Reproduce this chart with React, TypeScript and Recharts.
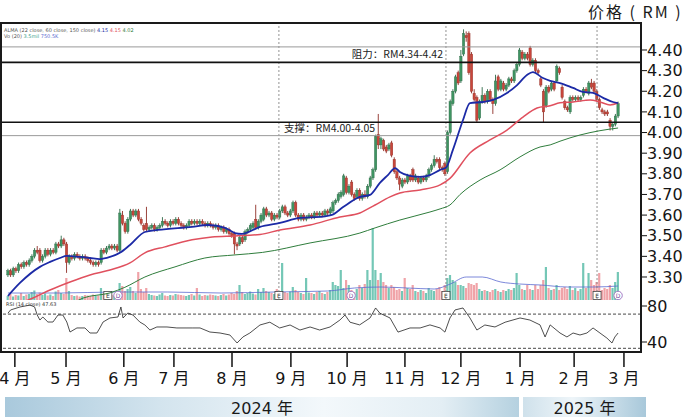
import React from 'react';
import { ComposedChart, Bar, Line, XAxis, YAxis, ReferenceLine, ReferenceDot, Cell } from 'recharts';

// daily candles [open, high, low, close]
const ohlc: [number, number, number, number][] = [
  [3.31,3.34,3.30,3.33],[3.33,3.34,3.30,3.31],[3.31,3.35,3.30,3.34],[3.34,3.35,3.32,3.33],[3.33,3.37,3.32,3.36],
  [3.36,3.37,3.34,3.35],[3.35,3.38,3.34,3.37],[3.37,3.38,3.35,3.36],[3.36,3.39,3.35,3.38],[3.38,3.41,3.37,3.40],
  [3.40,3.44,3.39,3.43],[3.43,3.45,3.41,3.42],[3.43,3.44,3.37,3.38],[3.38,3.41,3.37,3.40],[3.40,3.44,3.39,3.43],
  [3.43,3.44,3.40,3.41],[3.41,3.44,3.40,3.43],[3.43,3.44,3.41,3.42],[3.42,3.47,3.41,3.46],[3.46,3.47,3.44,3.45],
  [3.45,3.50,3.44,3.48],[3.48,3.49,3.45,3.46],[3.46,3.47,3.32,3.37],[3.37,3.41,3.36,3.40],[3.40,3.41,3.38,3.39],
  [3.39,3.42,3.38,3.41],[3.41,3.42,3.39,3.40],[3.40,3.41,3.38,3.39],[3.39,3.41,3.38,3.40],[3.40,3.41,3.38,3.39],
  [3.39,3.40,3.37,3.38],[3.38,3.39,3.36,3.37],[3.37,3.38,3.35,3.36],[3.36,3.38,3.35,3.37],[3.37,3.38,3.35,3.36],
  [3.37,3.44,3.36,3.43],[3.43,3.44,3.41,3.42],[3.42,3.45,3.41,3.44],[3.44,3.46,3.43,3.45],[3.45,3.46,3.43,3.44],
  [3.44,3.46,3.43,3.45],[3.45,3.46,3.42,3.43],[3.43,3.63,3.42,3.61],[3.60,3.62,3.55,3.56],[3.56,3.57,3.51,3.52],
  [3.52,3.59,3.51,3.58],[3.58,3.63,3.57,3.62],[3.62,3.63,3.59,3.60],[3.60,3.63,3.59,3.62],[3.62,3.63,3.57,3.58],
  [3.58,3.59,3.55,3.56],[3.55,3.56,3.52,3.53],[3.56,3.64,3.52,3.53],[3.53,3.55,3.52,3.54],[3.54,3.56,3.53,3.55],
  [3.55,3.56,3.52,3.53],[3.53,3.55,3.52,3.54],[3.54,3.56,3.53,3.55],[3.55,3.59,3.54,3.57],[3.57,3.58,3.55,3.56],
  [3.56,3.57,3.54,3.55],[3.55,3.58,3.54,3.57],[3.57,3.58,3.55,3.56],[3.56,3.59,3.55,3.58],[3.58,3.59,3.55,3.56],
  [3.56,3.57,3.54,3.55],[3.55,3.56,3.53,3.54],[3.54,3.56,3.53,3.55],[3.55,3.58,3.54,3.57],[3.57,3.58,3.55,3.56],
  [3.56,3.58,3.55,3.57],[3.57,3.58,3.55,3.56],[3.56,3.58,3.55,3.57],[3.57,3.58,3.55,3.56],[3.56,3.57,3.54,3.55],
  [3.55,3.57,3.54,3.56],[3.56,3.57,3.54,3.55],[3.55,3.56,3.53,3.54],[3.54,3.56,3.53,3.55],[3.55,3.56,3.52,3.53],
  [3.53,3.55,3.52,3.54],[3.54,3.55,3.51,3.52],[3.52,3.54,3.51,3.53],[3.53,3.54,3.50,3.51],[3.51,3.52,3.49,3.50],
  [3.51,3.52,3.41,3.46],[3.46,3.47,3.43,3.45],[3.46,3.50,3.45,3.49],[3.49,3.50,3.46,3.47],[3.48,3.53,3.47,3.52],
  [3.52,3.54,3.51,3.53],[3.53,3.56,3.52,3.55],[3.54,3.57,3.53,3.56],[3.58,3.65,3.53,3.54],[3.54,3.58,3.53,3.57],
  [3.57,3.61,3.56,3.60],[3.58,3.64,3.57,3.63],[3.63,3.64,3.59,3.60],[3.60,3.62,3.59,3.61],[3.61,3.62,3.57,3.58],
  [3.58,3.61,3.57,3.60],[3.60,3.61,3.58,3.59],[3.59,3.63,3.58,3.62],[3.62,3.65,3.61,3.64],[3.64,3.65,3.60,3.61],
  [3.61,3.62,3.59,3.60],[3.60,3.63,3.59,3.62],[3.62,3.67,3.61,3.66],[3.66,3.67,3.59,3.60],[3.60,3.61,3.57,3.58],
  [3.58,3.61,3.57,3.60],[3.60,3.61,3.57,3.58],[3.58,3.60,3.57,3.59],[3.59,3.61,3.58,3.60],[3.60,3.61,3.58,3.59],
  [3.59,3.62,3.58,3.61],[3.61,3.62,3.59,3.60],[3.60,3.62,3.59,3.61],[3.61,3.62,3.59,3.60],[3.60,3.63,3.59,3.62],
  [3.62,3.63,3.60,3.61],[3.61,3.64,3.60,3.63],[3.62,3.67,3.61,3.66],[3.66,3.68,3.65,3.67],[3.67,3.71,3.66,3.70],
  [3.69,3.72,3.68,3.71],[3.70,3.80,3.69,3.79],[3.78,3.79,3.70,3.71],[3.71,3.75,3.70,3.74],[3.76,3.77,3.69,3.70],
  [3.70,3.71,3.67,3.68],[3.69,3.73,3.68,3.72],[3.72,3.73,3.67,3.68],[3.68,3.71,3.67,3.70],[3.70,3.72,3.68,3.69],
  [3.69,3.75,3.68,3.74],[3.74,3.79,3.73,3.78],[3.78,3.83,3.77,3.82],[3.82,3.99,3.81,3.98],[3.99,4.09,3.92,3.94],
  [3.94,3.98,3.92,3.97],[3.96,3.97,3.91,3.92],[3.93,3.94,3.90,3.91],[3.92,3.95,3.91,3.94],[3.95,3.96,3.88,3.89],
  [3.87,3.88,3.80,3.81],[3.81,3.82,3.77,3.78],[3.78,3.79,3.72,3.75],[3.74,3.78,3.73,3.77],[3.77,3.78,3.75,3.76],
  [3.76,3.80,3.75,3.79],[3.79,3.80,3.76,3.77],[3.82,3.83,3.76,3.77],[3.77,3.80,3.76,3.79],[3.78,3.79,3.75,3.76],
  [3.76,3.79,3.75,3.78],[3.78,3.79,3.76,3.77],[3.77,3.80,3.76,3.79],[3.79,3.83,3.78,3.82],[3.82,3.85,3.81,3.84],
  [3.84,3.89,3.83,3.87],[3.87,3.88,3.85,3.86],[3.87,3.88,3.82,3.83],[3.83,3.84,3.81,3.82],[3.85,3.86,3.79,3.80],
  [3.81,4.01,3.80,4.00],[4.00,4.16,3.99,4.15],[4.14,4.21,4.13,4.20],[4.20,4.28,4.19,4.27],[4.29,4.30,4.23,4.24],
  [4.25,4.40,4.24,4.37],[4.38,4.50,4.37,4.48],[4.47,4.49,4.44,4.46],[4.48,4.49,4.28,4.29],[4.38,4.39,4.19,4.20],
  [4.19,4.21,4.15,4.16],[4.17,4.18,4.05,4.06],[4.07,4.16,4.06,4.15],[4.15,4.22,4.14,4.18],[4.18,4.19,4.14,4.15],
  [4.15,4.21,4.14,4.20],[4.20,4.21,4.15,4.16],[4.16,4.17,4.09,4.14],[4.14,4.28,4.13,4.25],[4.27,4.28,4.20,4.21],
  [4.21,4.26,4.20,4.25],[4.24,4.25,4.20,4.21],[4.21,4.24,4.20,4.23],[4.23,4.27,4.22,4.26],[4.26,4.27,4.24,4.25],
  [4.25,4.31,4.24,4.30],[4.30,4.34,4.29,4.33],[4.33,4.41,4.32,4.40],[4.39,4.40,4.35,4.36],[4.36,4.39,4.35,4.38],
  [4.38,4.39,4.35,4.36],[4.41,4.42,4.32,4.33],[4.33,4.36,4.32,4.35],[4.35,4.36,4.29,4.30],[4.30,4.31,4.28,4.29],
  [4.26,4.27,4.22,4.23],[4.20,4.21,4.05,4.10],[4.13,4.23,4.12,4.22],[4.22,4.23,4.19,4.20],[4.21,4.25,4.20,4.24],
  [4.24,4.25,4.20,4.21],[4.25,4.33,4.24,4.32],[4.31,4.32,4.28,4.29],[4.22,4.23,4.16,4.17],[4.15,4.16,4.11,4.12],
  [4.12,4.13,4.10,4.11],[4.10,4.18,4.09,4.17],[4.17,4.18,4.15,4.16],[4.16,4.18,4.15,4.17],[4.17,4.18,4.15,4.16],
  [4.16,4.18,4.15,4.17],[4.18,4.22,4.17,4.21],[4.21,4.22,4.19,4.20],[4.19,4.25,4.18,4.24],[4.24,4.26,4.21,4.22],
  [4.24,4.25,4.19,4.20],[4.20,4.21,4.15,4.16],[4.16,4.17,4.11,4.12],[4.11,4.12,4.09,4.10],[4.10,4.11,4.08,4.09],
  [4.10,4.11,4.08,4.09],[4.06,4.07,4.01,4.03],[4.03,4.05,4.01,4.04],[4.04,4.09,4.03,4.08],[4.08,4.15,4.07,4.14],
];

// daily volume (10k shares)
const volume: number[] = [
  40,60,35,50,45,70,40,55,60,80, 95,60,75,50,65,45,55,40,85,100,
  70,60,220,90,50,40,45,35,40,50, 45,40,55,50,45,120,70,60,55,50,
  45,60,170,140,90,110,130,90,70,280, 110,80,120,60,50,45,40,55,70,45,
  40,50,45,60,55,50,45,40,50,60, 45,120,55,40,50,45,55,50,45,40,
  50,60,45,55,70,60,90,150,80,60, 70,85,65,55,110,80,120,90,80,70,
  60,110,90,370,80,70,85,130,100,80, 70,60,220,75,70,60,80,90,70,60,
  80,100,180,150,140,300,120,200,150,100, 80,110,150,120,160,300,200,720,300,200,
  270,180,150,120,150,130,100,110,90,220, 120,110,150,90,80,100,90,70,120,100,
  90,110,130,90,150,220,250,200,180,150, 150,140,120,170,160,150,170,110,90,100,
  90,80,100,110,90,80,100,90,110,100, 120,270,150,110,100,150,110,100,150,110,
  150,200,330,120,100,110,150,100,120,130, 110,140,100,120,90,110,370,120,270,200,
  150,180,270,100,120,110,150,120,180,280,
];

// moving averages: [day, value]
const maShort: [number, number][] = [
  [0,3.208],[4.5,3.271],[12,3.349],[15.8,3.373],[19.5,3.392],[22.1,3.402],[27,3.397],[30.8,3.392],[34.5,3.387],
  [38.3,3.397],[42,3.417],[45.8,3.455],[51.4,3.518],[56.3,3.528],[69.1,3.543],[75.1,3.552],[81.5,3.538],[85.2,3.513],
  [87.8,3.509],[94.6,3.543],[102.1,3.562],[109.6,3.586],[117.1,3.591],[121.6,3.601],[125.8,3.639],[132.1,3.688],
  [135.9,3.698],[139.6,3.756],[142.6,3.794],[145.3,3.828],[147.1,3.809],[150.9,3.790],[154.7,3.785],[158.4,3.794],
  [162.2,3.819],[164.4,3.830],[167,3.916],[170.8,4.061],[173.4,4.143],[178.3,4.148],[182.1,4.158],[187.3,4.192],
  [191.1,4.230],[194.8,4.279],[197,4.293],[200.8,4.264],[203.5,4.250],[207.2,4.240],[212.1,4.216],[215.8,4.197],
  [219.6,4.192],[223.4,4.168],[227.1,4.148],[229,4.143],
];
const maMid: [number, number][] = [
  [4,3.17],[9.4,3.198],[15.8,3.237],[23.3,3.276],[30.8,3.310],[38.3,3.334],[45.8,3.368],[51.4,3.417],[58.9,3.446],
  [69.1,3.480],[76.6,3.494],[85.2,3.499],[94.6,3.506],[102.1,3.528],[113.4,3.552],[124.6,3.591],[132.1,3.610],
  [137.8,3.649],[143.4,3.688],[147.1,3.707],[154.7,3.722],[162.2,3.746],[165.9,3.778],[173.4,3.901],[180.9,3.964],
  [187.3,4.012],[193.3,4.075],[198.6,4.119],[203.5,4.130],[207.2,4.144],[212.1,4.148],[218.5,4.158],[222.2,4.148],
  [226,4.134],[229,4.143],
];
const maLong: [number, number][] = [
  [24,3.17],[28.2,3.198],[38.3,3.223],[43.9,3.250],[51.4,3.300],[62.7,3.349],[73.9,3.392],[85.2,3.407],[95.5,3.419],
  [113.4,3.465],[132.1,3.513],[137.8,3.538],[147.1,3.576],[158.4,3.615],[162.2,3.630],[165.9,3.649],[169.7,3.700],
  [177.2,3.770],[184.7,3.819],[192.2,3.882],[199.7,3.930],[203.5,3.940],[207.2,3.958],[214.7,3.988],[222.2,4.009],
  [229,4.022],
];
const volMa: [number, number][] = [
  [0,70],[20,70],[40,80],[60,80],[80,70],[100,80],[120,90],[130,120],[140,130],[150,120],[160,110],[166,160],
  [172,230],[178,230],[185,180],[192,160],[200,150],[210,130],[220,130],[229,140],
];
const rsi: [number, number][] = [
  [0,72],[1,75.6],[4.5,78.9],[8.3,81],[10,79],[11,70],[12,64.4],[13.1,67.8],[15,62.2],[16.9,62.2],[18.8,70],
  [20.6,70],[22.1,62.2],[23.3,51.1],[25.9,55.6],[28.9,55.6],[30.8,50],[33.4,50],[34.5,55.6],[35.7,62.2],[38.3,66.7],
  [41.3,67.8],[42.4,78.9],[43.2,66.7],[45,72.2],[46.9,70],[49.5,62.2],[51.4,58.9],[53.3,53.3],[55.9,56.7],[59.7,56.7],
  [63.4,55.6],[67.2,55.6],[69.4,55.6],[72.1,55.6],[75.8,51.1],[79.6,50],[83.3,47.8],[86,38.9],[88.2,45.6],[90.8,50],
  [94.6,58.9],[98.3,62],[102,55.6],[105.9,58.9],[109.6,53.3],[113.4,56.7],[117,53.3],[120.9,56.7],[124.6,64.4],
  [126.5,70],[128.4,62],[132,59],[135.9,66.7],[138,77.8],[139.6,72],[143.4,66.7],[146.4,51],[150.9,55.6],[154.7,55.6],
  [158.4,59],[162.2,55.6],[164,51],[165.9,66.7],[167.8,75.6],[170.8,77.8],[173.4,66.7],[176,53.3],[179,58.9],
  [182.8,56.7],[186.6,62],[192.2,66.7],[195.9,64.4],[199.7,59],[201.6,45.6],[203.5,59],[207.2,50],[209.8,45.6],
  [212.1,50],[214.7,47.8],[217.3,50],[219.6,55.6],[222.2,50],[224.8,44.4],[226.7,38.9],[227.8,45.6],[229,50],
];

const priceTicks = [3.3, 3.4, 3.5, 3.6, 3.7, 3.8, 3.9, 4.0, 4.1, 4.2, 4.3, 4.4];
const rsiTicks = [40, 80];
const rsiBands = [71, 33];
const monthTicks = [2.6, 21.8, 43.5, 62.3, 84.1, 106.2, 127.3, 149.0, 170.0, 192.2, 212.5, 231.2];
const monthLabels = ['4', '5', '6', '7', '8', '9', '10', '11', '12', '1', '2', '3'];
const resistance = { strong: 4.34, weak: 4.415, label: '阻力：RM4.34-4.42' };
const support = { strong: 4.05, weak: 3.985, label: '支撑：RM4.00-4.05' };
const earningsDays = [37.5, 101.7, 164.4, 221.1];
const dividendDays = [41.3, 128.8, 229];
const dividerDays = [101.7, 164.4, 221.1];
const years = [{ label: '2024 年' }, { label: '2025 年' }];

const X_DOMAIN: [number, number] = [-2.6, 237.6];
const PRICE_DOMAIN: [number, number] = [3.1885, 4.5308];
const VOL_DOMAIN: [number, number] = [0, 2770];
const RSI_DOMAIN: [number, number] = [28.9, 86.67];

const UP = '#3f9462';
const DOWN = '#c9463b';
const FONT = '"DejaVu Sans", "Noto Sans CJK SC", sans-serif';
const CJK = '"Noto Sans CJK SC", sans-serif';

const candles = ohlc.map(([o, h, l, c], i) => ({ i, o, h, l, c, range: [l, h], v: volume[i] }));
const toPts = (arr: [number, number][]) => arr.map(([i, v]) => ({ i, v }));

const Candle = (props: any) => {
  const { x, y, width, height, payload } = props;
  if (x == null || !payload) return null;
  const top = Math.min(y, y + height);
  const span = Math.abs(height);
  const { o, h, l, c } = payload;
  const k = span / (h - l || 1);
  const cx = x + width / 2;
  const yO = top + (h - o) * k;
  const yC = top + (h - c) * k;
  const up = c >= o;
  const bt = Math.min(yO, yC);
  const bh = Math.max(1, Math.abs(yC - yO));
  return (
    <g>
      <line x1={cx} x2={cx} y1={top} y2={top + span} stroke={up ? '#2e6a47' : '#8e2f27'} strokeWidth={0.9} />
      <rect x={cx - 1.2} y={bt} width={2.4} height={bh} fill={up ? UP : DOWN} stroke={up ? '#2e6a47' : '#8e2f27'} strokeWidth={0.4} />
    </g>
  );
};

const EventMark = (kind: 'E' | 'D') => (props: any) => {
  const { cx, cy } = props;
  if (cx == null) return null;
  if (kind === 'E') {
    return (
      <g>
        <rect x={cx - 4} y={cy - 4} width={8} height={8} fill="#fff" stroke="#444" strokeWidth={0.8} />
        <text x={cx} y={cy + 2.5} fontSize={6} textAnchor="middle" fill="#333" fontFamily={FONT}>E</text>
      </g>
    );
  }
  return (
    <g>
      <circle cx={cx} cy={cy} r={4.2} fill="#fff" stroke="#9a6fc0" strokeWidth={0.9} />
      <text x={cx} y={cy + 2.3} fontSize={6} textAnchor="middle" fill="#7a4fa0" fontFamily={FONT}>D</text>
    </g>
  );
};

const levelLabel = (text: string, anchorX: number, dy: number, anchor: 'start' | 'end') => (p: any) => {
  const vb = p.viewBox || {};
  return (
    <text x={(vb.x || 0) + anchorX} y={(vb.y || 0) + dy} fontSize={10.5} fill="#222" textAnchor={anchor} fontFamily={CJK}>
      {text}
    </text>
  );
};

export default function App() {
  const axisTick = { fontSize: 16, fill: '#151515', fontFamily: FONT };
  return (
    <div style={{ position: 'absolute', left: 0, top: 0, width: 686, height: 417, background: '#fff', overflow: 'hidden', fontFamily: FONT }}>
      <div style={{ position: 'absolute', left: 588, top: -1, fontSize: 16, fontFamily: CJK, color: '#1a1a1a', letterSpacing: 2, whiteSpace: 'nowrap' }}>
        价格 ( RM )
      </div>

      {/* volume layer */}
      <div style={{ position: 'absolute', left: 0, top: 0 }}>
        <ComposedChart width={686} height={300} data={candles} margin={{ top: 23, right: 45, left: 1, bottom: 0 }}>
          <XAxis type="number" dataKey="i" domain={X_DOMAIN} hide allowDataOverflow />
          <YAxis yAxisId="v" domain={VOL_DOMAIN} hide allowDataOverflow />
          <Bar yAxisId="v" dataKey="v" barSize={2.2} isAnimationActive={false}>
            {candles.map((d) => (
              <Cell key={d.i} fill={d.c >= d.o ? '#74c7b6' : '#f0a3a8'} />
            ))}
          </Bar>
          <Line yAxisId="v" data={toPts(volMa)} dataKey="v" type="monotone" stroke="#5a6ad0" strokeWidth={0.8} dot={false} isAnimationActive={false} />
          {earningsDays.map((d) => (
            <ReferenceDot key={'e' + d} yAxisId="v" x={d} y={45} r={4} shape={EventMark('E')} />
          ))}
          {dividendDays.map((d) => (
            <ReferenceDot key={'d' + d} yAxisId="v" x={d} y={45} r={4} shape={EventMark('D')} />
          ))}
        </ComposedChart>
      </div>

      {/* price layer */}
      <div style={{ position: 'absolute', left: 0, top: 0 }}>
        <ComposedChart width={686} height={300} data={candles} margin={{ top: 23, right: 0, left: 1, bottom: 0 }}>
          <XAxis type="number" dataKey="i" domain={X_DOMAIN} hide allowDataOverflow />
          <YAxis
            yAxisId="p"
            orientation="right"
            domain={PRICE_DOMAIN}
            ticks={priceTicks}
            interval={0}
            allowDataOverflow
            width={45}
            axisLine={false}
            tickSize={6}
            tickMargin={0}
            tickLine={{ stroke: '#111', strokeWidth: 1 }}
            tick={axisTick}
            tickFormatter={(v: number) => v.toFixed(2)}
          />
          {dividerDays.map((d) => (
            <ReferenceLine key={d} yAxisId="p" x={d} stroke="#777" strokeDasharray="2 2" strokeWidth={0.8} />
          ))}
          <ReferenceLine yAxisId="p" y={resistance.weak} stroke="#9a9a9a" strokeWidth={1} />
          <ReferenceLine yAxisId="p" y={resistance.strong} stroke="#111" strokeWidth={1.6}
            label={levelLabel(resistance.label, 442, -4, 'end')} />
          <ReferenceLine yAxisId="p" y={support.strong} stroke="#111" strokeWidth={1.6}
            label={levelLabel(support.label, 283, 10, 'start')} />
          <ReferenceLine yAxisId="p" y={support.weak} stroke="#9a9a9a" strokeWidth={1} />
          <Line yAxisId="p" data={toPts(maLong)} dataKey="v" type="monotone" stroke="#2f7d3c" strokeWidth={1} dot={false} isAnimationActive={false} />
          <Line yAxisId="p" data={toPts(maMid)} dataKey="v" type="monotone" stroke="#e0505e" strokeWidth={1.5} dot={false} isAnimationActive={false} />
          <Bar yAxisId="p" dataKey="range" barSize={3} isAnimationActive={false} shape={(p: any) => <Candle {...p} />} />
          <Line yAxisId="p" data={toPts(maShort)} dataKey="v" type="monotone" stroke="#1c2aa6" strokeWidth={1.8} dot={false} isAnimationActive={false} />
        </ComposedChart>
      </div>

      {/* RSI layer + time axis */}
      <div style={{ position: 'absolute', left: 0, top: 280 }}>
        <ComposedChart width={686} height={137} data={toPts(rsi)} margin={{ top: 20, right: 0, left: 1, bottom: 0 }}>
          <XAxis
            type="number"
            dataKey="i"
            domain={X_DOMAIN}
            allowDataOverflow
            ticks={monthTicks}
            interval={0}
            height={65}
            axisLine={false}
            tickSize={15}
            tickMargin={6}
            tickLine={{ stroke: '#111', strokeWidth: 1.5 }}
            tick={{ fontSize: 16, fill: '#151515', fontFamily: FONT }}
            tickFormatter={(v: number) => {
              const k = monthTicks.indexOf(v);
              return k >= 0 ? monthLabels[k] + ' 月' : '';
            }}
          />
          <YAxis
            yAxisId="r"
            orientation="right"
            domain={RSI_DOMAIN}
            ticks={rsiTicks}
            interval={0}
            allowDataOverflow
            width={45}
            axisLine={false}
            tickSize={6}
            tickMargin={0}
            tickLine={{ stroke: '#111', strokeWidth: 1 }}
            tick={axisTick}
          />
          {rsiBands.map((b) => (
            <ReferenceLine key={b} yAxisId="r" y={b} stroke="#333" strokeDasharray="3 2" strokeWidth={0.9} />
          ))}
          <Line yAxisId="r" dataKey="v" type="linear" stroke="#222" strokeWidth={0.8} dot={false} isAnimationActive={false} />
        </ComposedChart>
      </div>

      {/* tiny indicator captions */}
      <div style={{ position: 'absolute', left: 4, top: 27, fontSize: 5, lineHeight: '6px', color: '#555', whiteSpace: 'nowrap', fontFamily: FONT }}>
        <div>ALMA (22 close, 60 close, 150 close) <span style={{ color: '#1c2aa6' }}>4.15</span> <span style={{ color: '#e0505e' }}>4.15</span> <span style={{ color: '#2f7d3c' }}>4.02</span></div>
        <div>Vo (20) <span style={{ color: '#3aa08c' }}>3.5mil</span> <span style={{ color: '#5a6ad0' }}>750.5K</span></div>
      </div>
      <div style={{ position: 'absolute', left: 6, top: 301, fontSize: 5, color: '#333', whiteSpace: 'nowrap', fontFamily: FONT }}>
        RSI (14 close) 47.63
      </div>

      {/* panel frame */}
      <div style={{ position: 'absolute', left: 0, top: 22, width: 642, height: 331, border: '2px solid #1a1a1a', boxSizing: 'border-box', pointerEvents: 'none' }} />

      {/* year band */}
      <div style={{ position: 'absolute', left: 5, top: 397, width: 514, height: 20, background: 'linear-gradient(to right, #a9c9dc 0%, #d3e4ee 30%, #f3f8fb 62%, #e3eef4 85%, #b5d1e0 100%)', display: 'flex', alignItems: 'center', justifyContent: 'center', fontSize: 16, color: '#1a1a1a', fontFamily: FONT }}>
        {years[0].label}
      </div>
      <div style={{ position: 'absolute', left: 523, top: 397, width: 123, height: 20, background: 'linear-gradient(to right, #cfe1eb 0%, #eef5f9 40%, #a8c8da 100%)', display: 'flex', alignItems: 'center', justifyContent: 'center', fontSize: 16, color: '#1a1a1a', fontFamily: FONT }}>
        {years[1].label}
      </div>
    </div>
  );
}
